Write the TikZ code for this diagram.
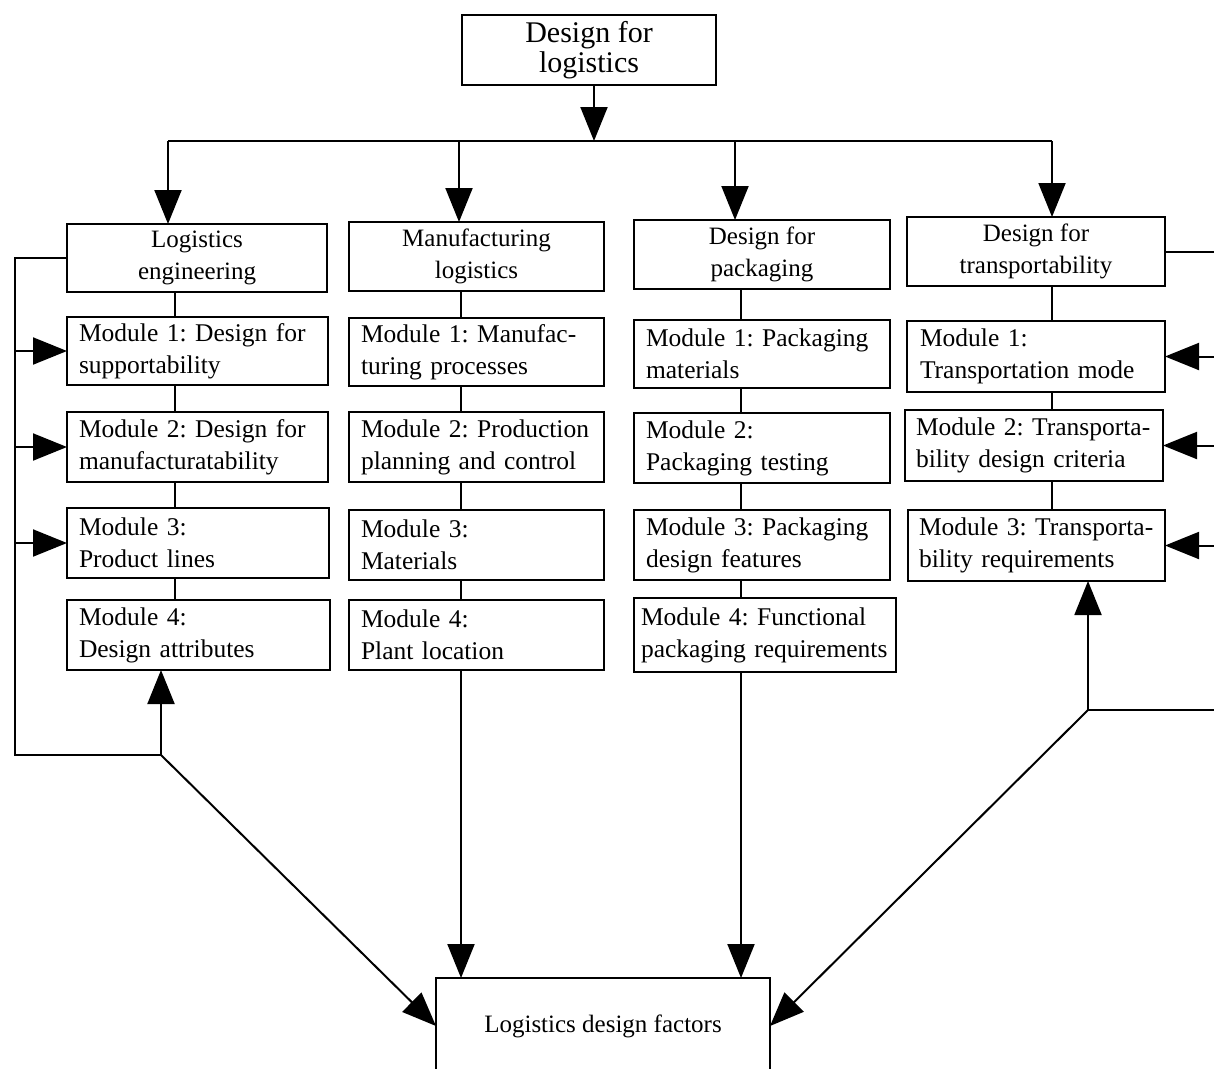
\documentclass[tikz,border=0pt]{standalone}
\usepackage{fontspec}
\setmainfont{Liberation Serif}
\usetikzlibrary{arrows.meta,calc}
\frenchspacing
\hyphenpenalty=10000
\exhyphenpenalty=10000
\begin{document}
\begin{tikzpicture}[x=1pt,y=-1pt,
  line width=2pt,
  box/.style={draw, line width=2pt, inner ysep=0pt, outer sep=0pt},
  hdr/.style={box, align=center, font=\fontsize{25}{32}\selectfont},
  mod/.style={box, align=left, inner xsep=12pt, text width=#1, font=\fontsize{25.5}{32}\selectfont},
  arr/.style={-{Triangle[length=34pt,width=27pt]}},
  lnk/.style={line width=2pt}
]
\useasboundingbox (0,0) rectangle (1214,1068);

% top
\node[box, align=center, minimum width=254pt, minimum height=70pt, font=\fontsize{30}{30}\selectfont] (TOP) at (589,50) {Design for\\logistics};

% column 1
\node[hdr, minimum width=260pt, minimum height=68pt] (H1) at (197,258) {Logistics\\engineering};
\node[mod=237pt, minimum height=68pt] (A1) at (197.5,351) {Module 1: Design for\\supportability};
\node[mod=237pt, minimum height=70pt] (A2) at (197.5,447) {Module 2: Design for\\manufacturatability};
\node[mod=238pt, minimum height=70pt] (A3) at (198,543) {Module 3:\\Product lines};
\node[mod=239pt, minimum height=70pt] (A4) at (198.5,635) {Module 4:\\Design attributes};

% column 2
\node[hdr, minimum width=255pt, minimum height=69pt] (H2) at (476.5,256.5) {Manufacturing\\logistics};
\node[mod=231pt, minimum height=68pt] (B1) at (476.5,352) {Module 1: Manufac-\\turing processes};
\node[mod=231pt, minimum height=70pt] (B2) at (476.5,447) {Module 2: Production\\planning and control};
\node[mod=231pt, minimum height=70pt] (B3) at (476.5,545) {Module 3:\\Materials};
\node[mod=231pt, minimum height=70pt] (B4) at (476.5,635) {Module 4:\\Plant location};

% column 3
\node[hdr, minimum width=256pt, minimum height=69pt] (H3) at (762,254.5) {Design for\\packaging};
\node[mod=232pt, minimum height=68pt] (P1) at (762,354) {Module 1: Packaging\\materials};
\node[mod=232pt, minimum height=70pt] (P2) at (762,448) {Module 2:\\Packaging testing};
\node[mod=232pt, minimum height=70pt] (P3) at (762,545) {Module 3: Packaging\\design features};
\node[mod=248pt, inner xsep=7pt, minimum height=74pt] (P4) at (765,635) {Module 4: Functional\\packaging requirements};

% column 4
\node[hdr, minimum width=258pt, minimum height=69pt] (H4) at (1036,251.5) {Design for\\transportability};
\node[mod=232pt, inner xsep=13pt, minimum height=71pt] (T1) at (1036,356.5) {Module 1:\\Transportation mode};
\node[mod=236pt, inner xsep=11pt, minimum height=71pt] (T2) at (1034,445.5) {Module 2: Transporta-\\bility design criteria};
\node[mod=235pt, inner xsep=11pt, minimum height=71pt] (T3) at (1036.5,545.5) {Module 3: Transporta-\\bility requirements};

% bottom
\node[box, minimum width=334pt, minimum height=96pt, font=\fontsize{25}{32}\selectfont] (F) at (603,1026) {Logistics design factors};

% helper coordinates
\coordinate (bm) at (594,141);
\coordinate (b1) at (168,141);
\coordinate (b2) at (459,141);
\coordinate (b3) at (735,141);
\coordinate (b4) at (1052,141);
\coordinate (c1) at (175,0);
\coordinate (c2) at (461,0);
\coordinate (c3) at (741,0);
\coordinate (c4) at (1052,0);
\coordinate (lx) at (15,0);
\coordinate (rx) at (1218,0);
\coordinate (f1) at (161,755);
\coordinate (g4) at (1088,710);

% top distribution
\draw[arr] (TOP.south -| bm) -- (bm);
\draw[lnk] (b1) -- (b4);
\draw[arr] (b1) -- (b1 |- H1.north);
\draw[arr] (b2) -- (b2 |- H2.north);
\draw[arr] (b3) -- (b3 |- H3.north);
\draw[arr] (b4) -- (b4 |- H4.north);

% column connectors
\draw[lnk] (H1.south -| c1) -- (A1.north -| c1);
\draw[lnk] (A1.south -| c1) -- (A2.north -| c1);
\draw[lnk] (A2.south -| c1) -- (A3.north -| c1);
\draw[lnk] (A3.south -| c1) -- (A4.north -| c1);

\draw[lnk] (H2.south -| c2) -- (B1.north -| c2);
\draw[lnk] (B1.south -| c2) -- (B2.north -| c2);
\draw[lnk] (B2.south -| c2) -- (B3.north -| c2);
\draw[lnk] (B3.south -| c2) -- (B4.north -| c2);

\draw[lnk] (H3.south -| c3) -- (P1.north -| c3);
\draw[lnk] (P1.south -| c3) -- (P2.north -| c3);
\draw[lnk] (P2.south -| c3) -- (P3.north -| c3);
\draw[lnk] (P3.south -| c3) -- (P4.north -| c3);

\draw[lnk] (H4.south -| c4) -- (T1.north -| c4);
\draw[lnk] (T1.south -| c4) -- (T2.north -| c4);
\draw[lnk] (T2.south -| c4) -- (T3.north -| c4);

% left feedback
\draw[lnk] (H1.west) -- (H1.west -| lx) -- (f1 -| lx) -- (f1);
\draw[arr] (A1.west -| lx) -- (A1.west);
\draw[arr] (A2.west -| lx) -- (A2.west);
\draw[arr] (A3.west -| lx) -- (A3.west);
\draw[arr] (f1) -- (f1 |- A4.south);
\draw[arr] (f1) -- (F.west);

% middle arrows to bottom
\draw[arr] (B4.south -| c2) -- (F.north -| c2);
\draw[arr] (P4.south -| c3) -- (F.north -| c3);

% right feedback
\draw[lnk] (H4.east) -- (H4.east -| rx);
\draw[arr] (T1.east -| rx) -- (T1.east);
\draw[arr] (T2.east -| rx) -- (T2.east);
\draw[arr] (T3.east -| rx) -- (T3.east);
\draw[lnk] (g4) -- (g4 -| rx);
\draw[arr] (g4) -- (g4 |- T3.south);
\draw[arr] (g4) -- (F.east);
\end{tikzpicture}
\end{document}
